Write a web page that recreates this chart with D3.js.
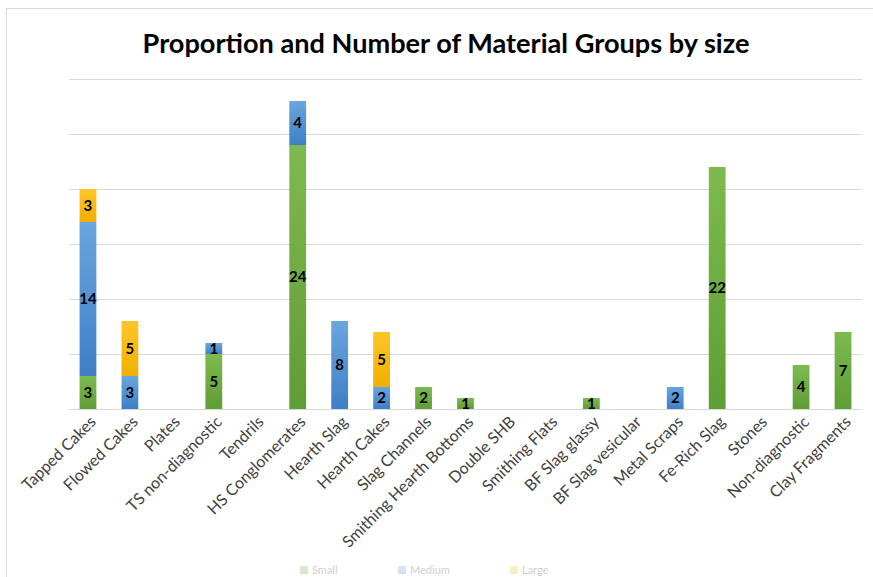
<!DOCTYPE html>
<html>
<head>
<meta charset="utf-8">
<script src="https://cdn.jsdelivr.net/npm/d3@7"></script>
<style>
  html, body { margin: 0; padding: 0; background: #ffffff; }
  svg { display: block; }
  text { font-family: Lato, "Open Sans", sans-serif; }
</style>
</head>
<body>
<svg id="chart" width="873" height="577"></svg>
<script>
// Material groups along the x axis
const categories = [
  "Tapped Cakes", "Flowed Cakes", "Plates", "TS non-diagnostic", "Tendrils",
  "HS Conglomerates", "Hearth Slag", "Hearth Cakes", "Slag Channels",
  "Smithing Hearth Bottoms", "Double SHB", "Smithing Flats", "BF Slag glassy",
  "BF Slag vesicular", "Metal Scraps", "Fe-Rich Slag", "Stones",
  "Non-diagnostic", "Clay Fragments"
];

// Counts per size class (stacked bottom to top)
const smallCounts  = [3, 0, 0, 5, 0, 24, 0, 0, 2, 1, 0, 0, 1, 0, 0, 22, 0, 4, 7];
const mediumCounts = [14, 3, 0, 1, 0, 4, 8, 2, 0, 0, 0, 0, 0, 0, 2, 0, 0, 0, 0];
const largeCounts  = [3, 5, 0, 0, 0, 0, 0, 5, 0, 0, 0, 0, 0, 0, 0, 0, 0, 0, 0];

const seriesNames = ["Small", "Medium", "Large"];
const gridTicks = [0, 5, 10, 15, 20, 25, 30];

const svg = d3.select("#chart");
const W = 873, H = 577;

// chart frame
svg.append("rect")
  .attr("x", 6.5).attr("y", 8.5)
  .attr("width", W + 10).attr("height", H + 10)
  .attr("fill", "#ffffff")
  .attr("stroke", "#d9d9d9").attr("stroke-width", 1);

// gradients per series
const palette = {
  Small:  ["#7dba50", "#5f9d35"],
  Medium: ["#6aa6de", "#3e7fc6"],
  Large:  ["#ffc52a", "#f0b000"]
};
const defs = svg.append("defs");
seriesNames.forEach(name => {
  const g = defs.append("linearGradient")
    .attr("id", "grad-" + name)
    .attr("x1", 0).attr("y1", 0).attr("x2", 0).attr("y2", 1);
  g.append("stop").attr("offset", "0%").attr("stop-color", palette[name][0]);
  g.append("stop").attr("offset", "100%").attr("stop-color", palette[name][1]);
});

// title
const title = svg.append("text")
  .attr("x", 446).attr("y", 53)
  .attr("text-anchor", "middle")
  .attr("font-weight", "bold")
  .attr("fill", "#000000")
  .text("Proportion and Number of Material Groups by size");
{
  let fs = 24;
  title.attr("font-size", fs);
  const w = title.node().getComputedTextLength();
  fs = fs * 607 / w;
  title.attr("font-size", fs.toFixed(2));
}

// scales
const x = d3.scaleBand()
  .domain(categories)
  .range([67, 864])
  .paddingInner(0.6)
  .paddingOuter(0.3);

const y = d3.scaleLinear()
  .domain([0, 30])
  .range([409, 79]);

// gridlines
svg.append("g")
  .selectAll("line")
  .data(gridTicks)
  .join("line")
  .attr("x1", 69).attr("x2", 862)
  .attr("y1", d => y(d) + 0.5).attr("y2", d => y(d) + 0.5)
  .attr("stroke", "#d9d9d9")
  .attr("stroke-width", 1);

// stacked data
const rows = categories.map((c, i) => ({
  category: c,
  Small: smallCounts[i],
  Medium: mediumCounts[i],
  Large: largeCounts[i]
}));
const stack = d3.stack().keys(seriesNames)(rows);

const layers = svg.append("g")
  .selectAll("g")
  .data(stack)
  .join("g")
  .attr("fill", d => "url(#grad-" + d.key + ")");

layers.selectAll("rect")
  .data(d => d.filter(s => s[1] - s[0] > 0))
  .join("rect")
  .attr("x", d => x(d.data.category))
  .attr("width", x.bandwidth())
  .attr("y", d => y(d[1]))
  .attr("height", d => y(d[0]) - y(d[1]));

// value labels
const labelG = svg.append("g");
stack.forEach(layer => {
  layer.forEach(s => {
    const v = s[1] - s[0];
    if (v <= 0) return;
    labelG.append("text")
      .attr("x", x(s.data.category) + x.bandwidth() / 2)
      .attr("y", (y(s[0]) + y(s[1])) / 2)
      .attr("dy", "0.36em")
      .attr("text-anchor", "middle")
      .attr("font-size", 15)
      .attr("font-weight", "bold")
      .attr("fill", "#000000")
      .text(v);
  });
});

// category axis labels
const xAxis = d3.axisBottom(x).tickSize(0).tickPadding(0);
const axisG = svg.append("g")
  .attr("transform", "translate(0,409)")
  .call(xAxis);
axisG.select(".domain").remove();
axisG.selectAll(".tick text")
  .attr("font-family", "Lato, 'Open Sans', sans-serif")
  .attr("font-size", 16)
  .attr("fill", "#404040")
  .attr("text-anchor", "end")
  .attr("dy", "0.35em")
  .attr("transform", "translate(5,10) rotate(-45)");

// legend along the bottom edge
const legendItems = [
  { name: "Small", x: 300 },
  { name: "Medium", x: 398 },
  { name: "Large", x: 510 }
];
const legend = svg.append("g").attr("opacity", 0.25);
legendItems.forEach(item => {
  legend.append("rect")
    .attr("x", item.x).attr("y", 566)
    .attr("width", 8).attr("height", 8)
    .attr("fill", "url(#grad-" + item.name + ")");
  legend.append("text")
    .attr("x", item.x + 12).attr("y", 574)
    .attr("font-size", 11)
    .attr("fill", "#404040")
    .text(item.name);
});
</script>
</body>
</html>
